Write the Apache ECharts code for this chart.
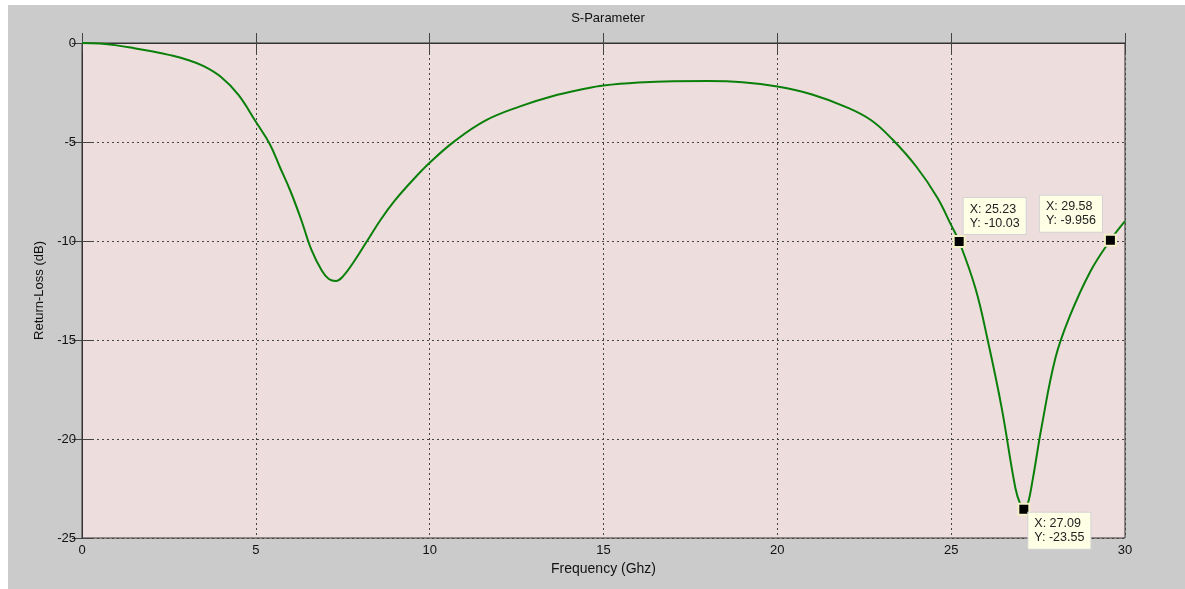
<!DOCTYPE html>
<html>
<head>
<meta charset="utf-8">
<title>S-Parameter</title>
<script src="https://cdn.jsdelivr.net/npm/echarts@6/dist/echarts.min.js"></script>
<style>
  html, body { margin: 0; padding: 0; background: #ffffff; }
  #chart { position: absolute; left: 8px; top: 5px; width: 1177px; height: 584px; }
</style>
</head>
<body>
<div id="chart"></div>
<script>
// frequency sweep (GHz) and return loss (dB)
var freqGhz = [0, 0.5, 1.0, 1.5, 2.0, 2.5, 3.0, 3.5, 4.0, 4.5, 5.0, 5.4, 5.7, 6.0, 6.3, 6.6, 6.9, 7.1, 7.3, 7.5,
  7.8, 8.2, 8.6, 9.0, 9.5, 10.0, 10.7, 11.6, 12.6, 13.5, 14.5, 15.0, 16.0, 17.0, 18.0, 19.0, 20.0, 21.0, 22.0, 22.7,
  23.3, 24.0, 24.6, 25.0, 25.23, 25.7, 26.05, 26.45, 26.85, 27.0, 27.09, 27.2, 27.35, 27.6, 28.0, 28.4, 29.0, 29.58, 30.0];
var returnLossDb = [0, -0.03, -0.12, -0.26, -0.42, -0.6, -0.83, -1.17, -1.72, -2.62, -3.98, -5.1, -6.3, -7.5, -8.9, -10.45, -11.5, -11.92, -12.02, -11.8,
  -11.1, -10.0, -8.9, -7.95, -6.95, -6.05, -4.98, -3.92, -3.2, -2.7, -2.3, -2.15, -2.0, -1.93, -1.92, -1.98, -2.2, -2.6, -3.25, -3.9,
  -4.85, -6.25, -7.8, -9.2, -10.03, -12.4, -15.0, -18.4, -22.5, -23.35, -23.55, -23.3, -22.0, -19.4, -15.9, -13.85, -11.55, -9.956, -9.0];

// data tips
var tipX = [25.23, 29.58, 27.09];
var tipY = [-10.03, -9.956, -23.55];
var tipText = ['25.23', '29.58', '27.09'];
var tipTextY = ['-10.03', '-9.956', '-23.55'];
var tipLabelPos = [[11, -37], [-64, -38], [11, 10]];

var xTicks = [0, 30, 5];
var yTicks = [-25, 0, 5];

var curve = freqGhz.map(function (f, i) { return [f, returnLossDb[i]]; });
var tips = tipX.map(function (x, i) {
  return {
    value: [x, tipY[i]],
    label: { position: tipLabelPos[i], formatter: 'X: ' + tipText[i] + '\nY: ' + tipTextY[i] }
  };
});

var myChart = echarts.init(document.getElementById('chart'));
var axisFont = { fontFamily: 'Liberation Sans, Arial, sans-serif', fontSize: 13, color: '#111' };
var gridLine = { show: true, lineStyle: { color: '#444', type: [2, 3], width: 1 } };

myChart.setOption({
  backgroundColor: '#cbcbcb',
  animation: false,
  title: {
    text: 'S-Parameter',
    left: 595,
    top: 2,
    textAlign: 'center',
    textStyle: { fontFamily: 'Liberation Sans, Arial, sans-serif', fontSize: 13, fontWeight: 'normal', color: '#111' }
  },
  grid: {
    left: 74, top: 38, right: 60, bottom: 51,
    show: true, backgroundColor: '#eddddd', borderColor: '#333', borderWidth: 1
  },
  xAxis: [
    {
      type: 'value', min: xTicks[0], max: xTicks[1], interval: xTicks[2],
      name: 'Frequency (Ghz)', nameLocation: 'middle', nameGap: 18,
      nameTextStyle: { fontFamily: 'Liberation Sans, Arial, sans-serif', fontSize: 14, color: '#111' },
      axisLine: { lineStyle: { color: '#222' } },
      axisTick: { inside: true, length: 10, lineStyle: { color: '#444' } },
      axisLabel: Object.assign({ margin: 6 }, axisFont),
      splitLine: gridLine
    },
    {
      type: 'value', position: 'top', min: xTicks[0], max: xTicks[1], interval: xTicks[2],
      axisLine: { lineStyle: { color: '#333' } },
      axisTick: { inside: true, length: 10, lineStyle: { color: '#444' } },
      axisLabel: { show: false }, splitLine: { show: false }
    }
  ],
  yAxis: [
    {
      type: 'value', min: yTicks[0], max: yTicks[1], interval: yTicks[2],
      name: 'Return-Loss (dB)', nameLocation: 'middle', nameGap: 36,
      nameTextStyle: { fontFamily: 'Liberation Sans, Arial, sans-serif', fontSize: 13, color: '#111' },
      axisLine: { lineStyle: { color: '#555' } },
      axisTick: { inside: true, length: 10, lineStyle: { color: '#444' } },
      axisLabel: Object.assign({ margin: 6 }, axisFont),
      splitLine: gridLine
    },
    {
      type: 'value', position: 'right', min: yTicks[0], max: yTicks[1], interval: yTicks[2],
      axisLine: { lineStyle: { color: '#333' } },
      axisTick: { inside: true, length: 10, lineStyle: { color: '#444' } },
      axisLabel: { show: false }, splitLine: { show: false }
    }
  ],
  series: [
    {
      type: 'line',
      data: curve,
      smooth: 0.4,
      showSymbol: false,
      lineStyle: { color: '#0a800a', width: 2 },
      z: 3
    },
    {
      type: 'scatter',
      data: tips,
      symbol: 'rect',
      symbolSize: 11,
      clip: false,
      zlevel: 1,
      z: 10,
      itemStyle: { color: '#000', borderColor: '#f3f0c8', borderWidth: 2, opacity: 1 },
      label: {
        show: true,
        align: 'left',
        verticalAlign: 'top',
        fontFamily: 'Liberation Sans, Arial, sans-serif',
        fontSize: 12.5,
        lineHeight: 14,
        color: '#222',
        backgroundColor: '#ffffe6',
        borderColor: '#d4d4d4',
        borderWidth: 1,
        padding: [4, 6, 4, 6]
      }
    }
  ]
});
</script>
</body>
</html>
